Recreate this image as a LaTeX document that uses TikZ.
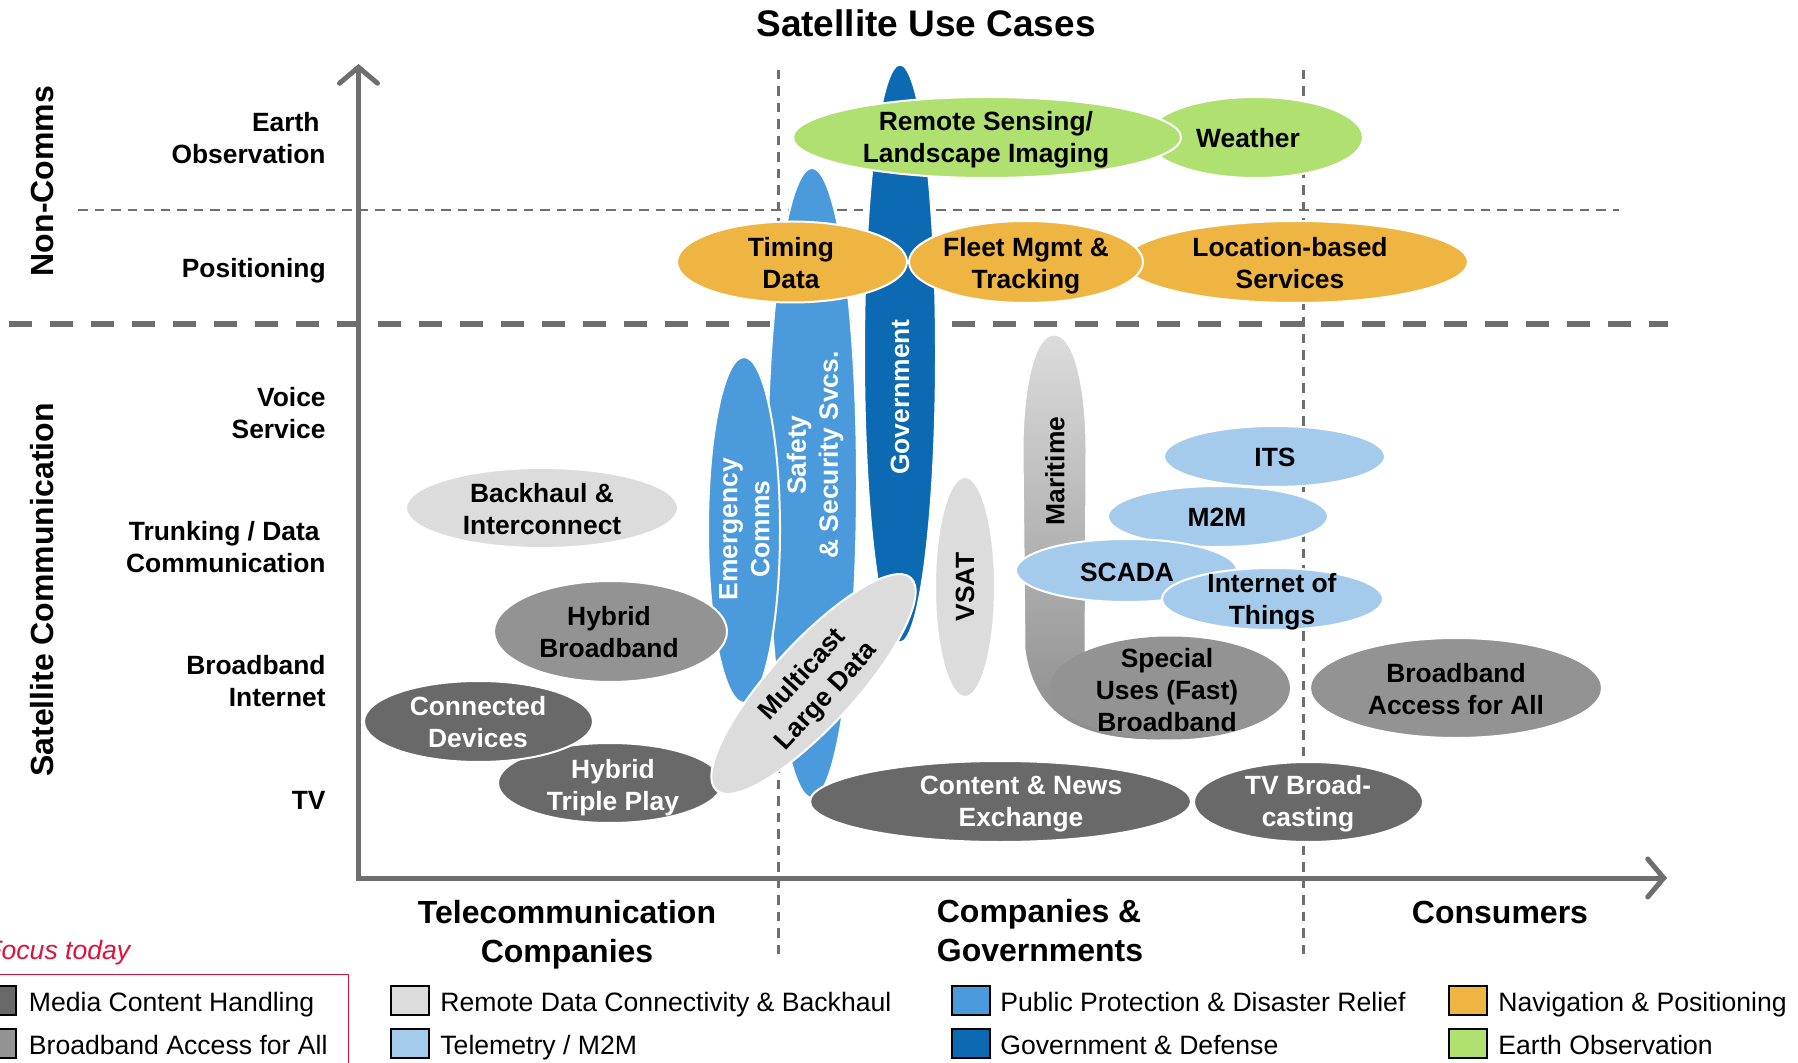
\documentclass[tikz,border=0pt]{standalone}
\usepackage{fontspec}
\setmainfont{Liberation Sans}
\usetikzlibrary{shapes.geometric, arrows.meta}

\definecolor{cgreen}{RGB}{176,224,112}
\definecolor{corange}{RGB}{239,181,67}
\definecolor{cblue}{RGB}{75,155,220}
\definecolor{cdblue}{RGB}{11,106,177}
\definecolor{cltblue}{RGB}{165,203,236}
\definecolor{cltgray}{RGB}{220,220,220}
\definecolor{cmgray}{RGB}{147,147,147}
\definecolor{cdgray}{RGB}{105,105,105}
\definecolor{axgray}{RGB}{110,110,110}
\definecolor{cred}{RGB}{220,20,60}

\begin{document}
\begin{tikzpicture}[x=0.5pt, y=-0.5pt,
  ell/.style={ellipse, draw=white, line width=1pt, inner sep=0pt, outer sep=0pt},
  lbl/.style={font=\fontsize{13.2}{16}\selectfont\bfseries, align=center, inner sep=0pt},
  wlbl/.style={lbl, text=white},
  side/.style={font=\fontsize{13.2}{16}\selectfont\bfseries, align=right, anchor=east, inner sep=0pt},
  vlab/.style={font=\fontsize{16}{19}\selectfont\bfseries, rotate=90, inner sep=0pt},
  cat/.style={font=\fontsize{16}{19.5}\selectfont\bfseries, align=center, inner sep=0pt},
  leg/.style={font=\fontsize{13.3}{16}\selectfont, anchor=base west, inner sep=0pt},
  legbox/.style={draw=black, line width=1pt, minimum width=19pt, minimum height=14.5pt, inner sep=0pt},
  thickdash/.style={draw=axgray, line width=3pt, dash pattern=on 11.5pt off 9pt},
  thindash/.style={draw=axgray, line width=1.25pt, dash pattern=on 4.75pt off 3.5pt},
  axis/.style={draw=axgray, line width=2.5pt, line join=miter,
    {Straight Barb[length=8pt, width=19pt, line cap=round]}-{Straight Barb[length=8pt, width=19pt, line cap=round]}}
]
\useasboundingbox (0,0) rectangle (1798,1063);
\clip (0,0) rectangle (1798,1063);

% ---------- grid ----------
\coordinate (h1a) at (78,210);    \coordinate (h1b) at (1619,210);
\coordinate (h2a) at (9,324.5);   \coordinate (h2b) at (1668,324.5);
\coordinate (v1a) at (778.5,70);  \coordinate (v1b) at (778.5,957);
\coordinate (v2a) at (1303.5,70); \coordinate (v2b) at (1303.5,957);
\draw[thindash] (h1a) -- (h1b);
\draw[thickdash] (h2a) -- (h2b);
\draw[thindash] (v1a) -- (v1b);
\draw[thindash] (v2a) -- (v2b);

% ---------- axes ----------
\coordinate (O) at (358.5,878);
\coordinate (ytop) at (358.5,64);
\coordinate (xend) at (1667,878);
\draw[axis] (ytop) -- (O) -- (xend);

% ---------- title ----------
\node[font=\fontsize{18.5}{22}\selectfont\bfseries, inner sep=0pt] (title) at (926,23) {Satellite Use Cases};

% ---------- side labels ----------
\node[vlab] (noncomms) at (42,181) {Non-Comms};
\node[vlab] (satcom) at (42,590) {Satellite Communication};
\node[side] (l1) at (326,138) {Earth\hspace*{3pt}\\Observation};
\node[side] (l2) at (326,270.5) {Positioning};
\node[side] (l3) at (326,413) {Voice\\Service};
\node[side] (l4) at (326,547) {Trunking / Data\hspace*{3pt}\\Communication};
\node[side] (l5) at (326,681) {Broadband\\Internet};
\node[side] (l6) at (326,800) {TV};

% ---------- shapes ----------
\node[ell, fill=cgreen, minimum width=108pt, minimum height=40.5pt] (weather) at (1255,137.5) {};
\node[ell, fill=cdblue, minimum width=36pt, minimum height=289pt] (gov) at (900,353.5) {};
\node[ell, fill=cgreen, minimum width=194pt, minimum height=40.5pt] (rs) at (987,137.5) {};
\node[ell, fill=cblue, minimum width=45pt, minimum height=315pt] (safety) at (812,483) {};
\node[ell, fill=corange, minimum width=172pt, minimum height=41pt] (loc) at (1296,262) {};
\node[ell, fill=corange, minimum width=117pt, minimum height=41pt] (fleet) at (1026,262) {};
\node[ell, fill=corange, minimum width=115pt, minimum height=40.5pt] (timing) at (792,262) {};
\node[ell, fill=cblue, minimum width=36pt, minimum height=173pt] (emerg) at (744,530) {};
\node[ell, fill=cltgray, minimum width=136pt, minimum height=40pt] (backhaul) at (542,508) {};
\node[ell, fill=cmgray, minimum width=116.5pt, minimum height=50.5pt] (hybbb) at (610.5,631.5) {};
\node[ell, fill=cdgray, minimum width=112pt, minimum height=40pt] (triple) at (610,783) {};
\node[ell, fill=cdgray, minimum width=114.5pt, minimum height=40.5pt] (conn) at (478.5,721.5) {};
\node[ell, fill=cltgray, minimum width=144pt, minimum height=42pt, rotate=47.5] (multi) at (813.5,684) {};
\node[ell, fill=cdgray, minimum width=190.5pt, minimum height=40.5pt] (content) at (1000.5,801.5) {};
\node[ell, fill=cdgray, minimum width=114.5pt, minimum height=40pt] (tvb) at (1308.5,802) {};
\node[ell, fill=cltgray, minimum width=30pt, minimum height=110pt] (vsat) at (965,587) {};

% Maritime (gradient bar flowing into Special Uses)
\path[top color=cltgray, bottom color=cmgray!95!black, draw=white, line width=0.5pt]
  (1054,335) .. controls (1075,335) and (1086,390) .. (1086,450)
  -- (1085,660) -- (1160,700) -- (1160,740)
  .. controls (1085,740) and (1035,720) .. (1025,650)
  -- (1023,450) .. controls (1023,390) and (1034,335) .. (1054,335) -- cycle;
\node[ellipse, fill=cmgray, inner sep=0pt, minimum width=120pt, minimum height=51.5pt] (special) at (1170,688) {};

\node[ell, fill=cltblue, minimum width=110.5pt, minimum height=30.5pt] (its) at (1274.5,456.5) {};
\node[ell, fill=cltblue, minimum width=110pt, minimum height=30.5pt] (m2m) at (1218,516.5) {};
\node[ell, fill=cltblue, minimum width=110.5pt, minimum height=31.5pt] (scada) at (1126.5,570.5) {};
\node[ell, fill=cltblue, minimum width=110.5pt, minimum height=31pt] (iot) at (1272.5,599) {};
\node[ell, fill=cmgray, minimum width=146pt, minimum height=50pt] (bba) at (1456,688) {};

% ---------- shape labels ----------
\node[lbl] (rs-t) at (986,140) {Remote Sensing/\\Landscape Imaging};
\node[lbl] (weather-t) at (1248,138.5) {Weather};
\node[lbl] (timing-t) at (791,263) {Timing\\Data};
\node[lbl] (fleet-t) at (1026,265.5) {Fleet Mgmt \&\\Tracking};
\node[lbl] (loc-t) at (1290,263) {Location-based\\Services};
\node[wlbl, rotate=90] (safety-t) at (815,455) {Safety\\\& Security Svcs.};
\node[wlbl, rotate=90] (gov-t) at (900,397) {Government};
\node[wlbl, rotate=90] (emerg-t) at (744.5,529) {Emergency\\Comms};
\node[lbl] (backhaul-t) at (542,509) {Backhaul \&\\Interconnect};
\node[lbl] (hybbb-t) at (609,632) {Hybrid\\Broadband};
\node[wlbl] (conn-t) at (478,722.5) {Connected\\Devices};
\node[wlbl] (triple-t) at (613,787.5) {Hybrid\\Triple Play};
\node[lbl, rotate=47.5] (multi-t) at (815,686) {Multicast\\Large Data};
\node[wlbl] (content-t) at (1021,804) {Content \& News\\Exchange};
\node[wlbl] (tvb-t) at (1308,803.5) {TV Broad-\\casting};
\node[lbl, rotate=90] (vsat-t) at (965,587) {VSAT};
\node[lbl, rotate=90] (mar-t) at (1055,471) {Maritime};
\node[lbl] (special-t) at (1167,690) {Special\\Uses (Fast)\\Broadband};
\node[lbl] (its-t) at (1275,457) {ITS};
\node[lbl] (m2m-t) at (1217,517) {M2M};
\node[lbl] (scada-t) at (1127,572) {SCADA};
\node[lbl] (iot-t) at (1272,601.5) {Internet of\\Things};
\node[lbl] (bba-t) at (1456,689) {Broadband\\Access for All};

% ---------- x-axis categories ----------
\node[cat] (cat1) at (567,935) {Telecommunication\\Companies};
\node[cat, align=left] (cat2) at (1040,931) {Companies \&\\Governments};
\node[cat] (cat3) at (1500,912) {Consumers};

% ---------- legend ----------
\node[font=\fontsize{13.3}{16}\selectfont\itshape, text=cred, anchor=base west, inner sep=0pt] (focus) at (-15,959.5) {Focus today};
\coordinate (rf1) at (-20,974.5);
\coordinate (rf2) at (348.5,974.5);
\coordinate (rf3) at (348.5,1080);
\draw[cred, line width=0.9pt] (rf1) -- (rf2) -- (rf3);

\node[legbox, fill=cdgray] (b1) at (-3,1000.5) {};
\node[leg] (t1) at (28.5,1011.5) {Media Content Handling};
\node[legbox, fill=cmgray] (b2) at (-3,1043) {};
\node[leg] (t2) at (28.5,1054) {Broadband Access for All};

\node[legbox, fill=cltgray] (b3) at (409.5,1000.5) {};
\node[leg] (t3) at (440,1011.5) {Remote Data Connectivity \& Backhaul};
\node[legbox, fill=cltblue] (b4) at (409.5,1043) {};
\node[leg] (t4) at (440,1054) {Telemetry / M2M};

\node[legbox, fill=cblue] (b5) at (970.5,1000.5) {};
\node[leg] (t5) at (1000,1011.5) {Public Protection \& Disaster Relief};
\node[legbox, fill=cdblue] (b6) at (970.5,1043) {};
\node[leg] (t6) at (1000,1054) {Government \& Defense};

\node[legbox, fill=corange] (b7) at (1467.5,1000.5) {};
\node[leg] (t7) at (1498,1011.5) {Navigation \& Positioning};
\node[legbox, fill=cgreen] (b8) at (1467.5,1043) {};
\node[leg] (t8) at (1498,1054) {Earth Observation};
\end{tikzpicture}
\end{document}
